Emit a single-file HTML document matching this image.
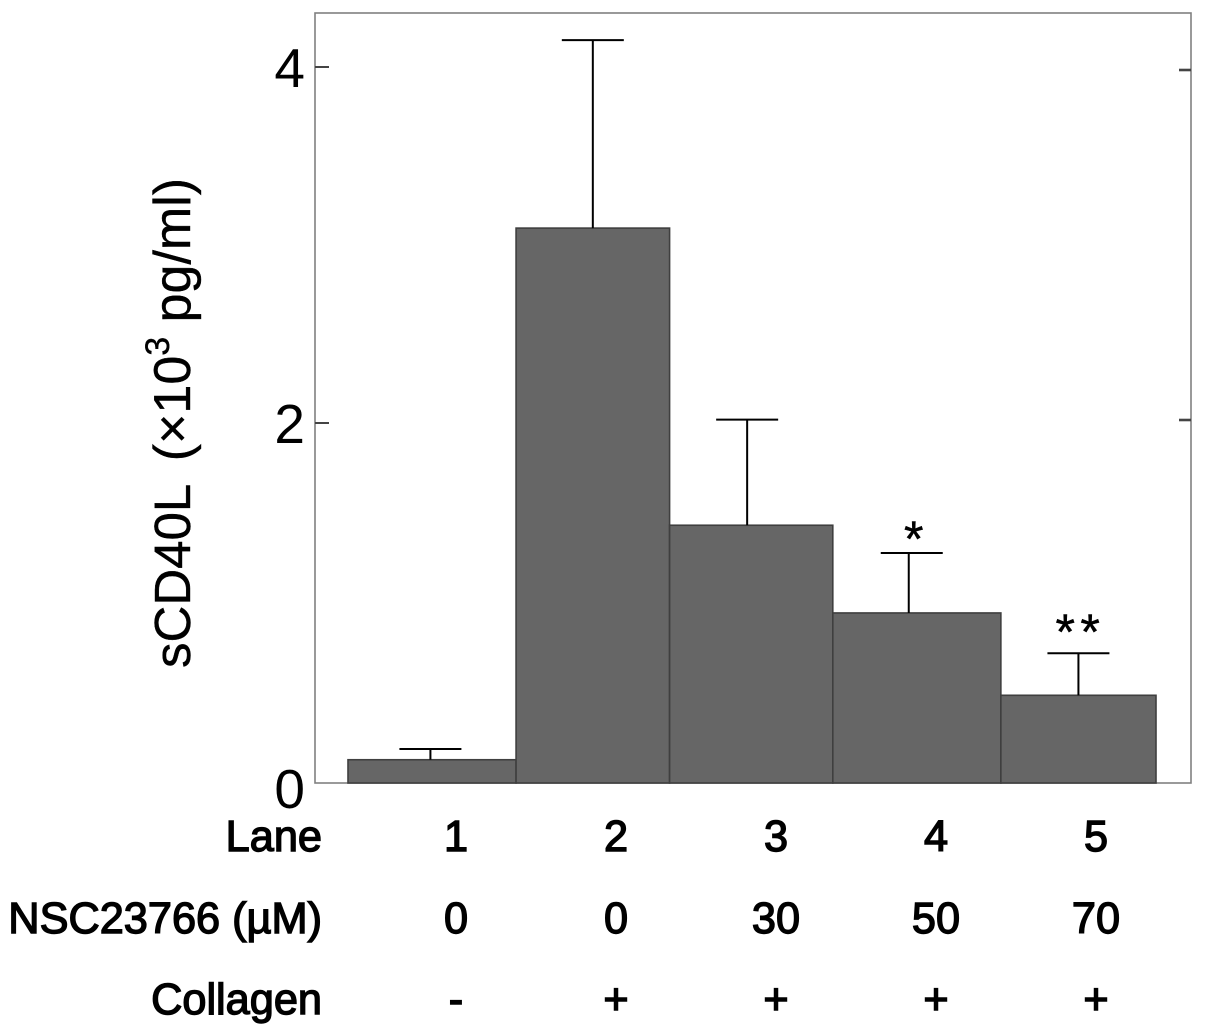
<!DOCTYPE html>
<html>
<head>
<meta charset="utf-8">
<style>
html,body{margin:0;padding:0;background:#fff;width:1205px;height:1035px;overflow:hidden}
svg{display:block}
text{font-family:"Liberation Sans",Arial,sans-serif;fill:#000}
.row{font-size:43.3px;stroke:#000;stroke-width:1.4px}
.tick{font-size:55px}
</style>
</head>
<body>
<svg id="chart" width="1205" height="1035" viewBox="0 0 1205 1035" xmlns="http://www.w3.org/2000/svg"></svg>
<script>
const barValues = [0.13, 3.10, 1.44, 0.95, 0.49];
const errorTops = [0.19, 4.15, 2.03, 1.285, 0.725];
const laneEdges = [0, 1.04, 1.99, 3, 4.04, 5];
const errorLanePositions = [0.51, 1.515, 2.47, 3.47, 4.52];
const yTicks = [0, 2, 4];
const laneLabels = ["1", "2", "3", "4", "5"];
const doseLabels = ["0", "0", "30", "50", "70"];
const collagenLabels = ["-", "+", "+", "+", "+"];
const significance = ["", "", "", "*", "**"];

const svg = document.getElementById('chart');
const NS = 'http://www.w3.org/2000/svg';
const yPx = v => 783 - v * 179;
const yLeftTick = v => 779 - v * 178;
const yRightTick = v => 770 - v * 175;
const xPx = u => 348 + u * 161.6;
const labelX = i => 456 + i * 160;

function add(tag, attrs, parent) {
  const el = document.createElementNS(NS, tag);
  for (const k in attrs) el.setAttribute(k, attrs[k]);
  (parent || svg).appendChild(el);
  return el;
}

// Plot frame
const frame = add('rect', {x: 315, y: 13, width: 876, height: 770, fill: 'none', stroke: '#808080', 'stroke-width': 1.6});



// Bars
barValues.forEach((v, i) => {
  const bar = add('rect', {
    x: xPx(laneEdges[i]), y: yPx(v),
    width: xPx(laneEdges[i + 1]) - xPx(laneEdges[i]),
    height: yPx(0) - yPx(v),
    fill: '#666666', stroke: '#3f3f3f', 'stroke-width': 1.6
  });
  
  
});

// Error bars
errorTops.forEach((t, i) => {
  const ex = xPx(errorLanePositions[i]);
  const capShift = i === 3 ? 3 : 0;
  const g = add('g', {stroke: '#000', 'stroke-width': 2});
  
  
  add('line', {x1: ex, x2: ex, y1: yPx(barValues[i]), y2: yPx(t)}, g);
  add('line', {x1: ex + capShift - 31, x2: ex + capShift + 31, y1: yPx(t), y2: yPx(t)}, g);
  if (significance[i]) {
    const s = add('text', {
      x: ex + (i === 4 ? 2 : 5),
      y: yPx(t) + (i === 4 ? -4 : 3),
      'text-anchor': 'middle', 'font-size': 50,
      stroke: '#000', 'stroke-width': 0.5,
      'letter-spacing': i === 4 ? 5.5 : 0
    });
    s.textContent = significance[i];
    
    
  }
});

// Ticks
yTicks.forEach(v => {
  if (v > 0) {
    const l = add('line', {x1: 315, x2: 329, y1: yLeftTick(v), y2: yLeftTick(v), stroke: '#444', 'stroke-width': 2});
    
    
    const r = add('line', {x1: 1179, x2: 1191, y1: yRightTick(v), y2: yRightTick(v), stroke: '#444', 'stroke-width': 2.6});
    
    
  }
  const t = add('text', {x: 305, y: yLeftTick(v) + 20 + (v === 0 ? 9 : 0), 'text-anchor': 'end', class: 'tick'});
  t.textContent = v;
  
  
});

// Rows under the axis
const rows = [
  {name: 'lane', title: 'Lane', y: 851, labels: laneLabels},
  {name: 'nsc23766', title: 'NSC23766 (\u00B5M)', y: 933, labels: doseLabels},
  {name: 'collagen', title: 'Collagen', y: 1014, labels: collagenLabels}
];
rows.forEach(r => {
  const h = add('text', {x: 322, y: r.y, 'text-anchor': 'end', class: 'row'});
  h.textContent = r.title;
  
  
  r.labels.forEach((s, i) => {
    const t = add('text', {x: labelX(i), y: r.y, 'text-anchor': 'middle', class: 'row'});
    t.textContent = s;
    
    
  });
});

// Y axis title
const yt = add('text', {transform: 'translate(190 668) rotate(-90)', 'font-size': 52, stroke: '#000', 'stroke-width': 0.4});


const a0 = add('tspan', {'font-size': 51}, yt); a0.textContent = 'sCD40L';
const a = add('tspan', {dx: 8}, yt); a.textContent = '  (\u00D710';
const b = add('tspan', {dy: -21, 'font-size': 34}, yt); b.textContent = '3';
const c = add('tspan', {dy: 21}, yt); c.textContent = ' pg/ml)';
</script>
</body>
</html>
